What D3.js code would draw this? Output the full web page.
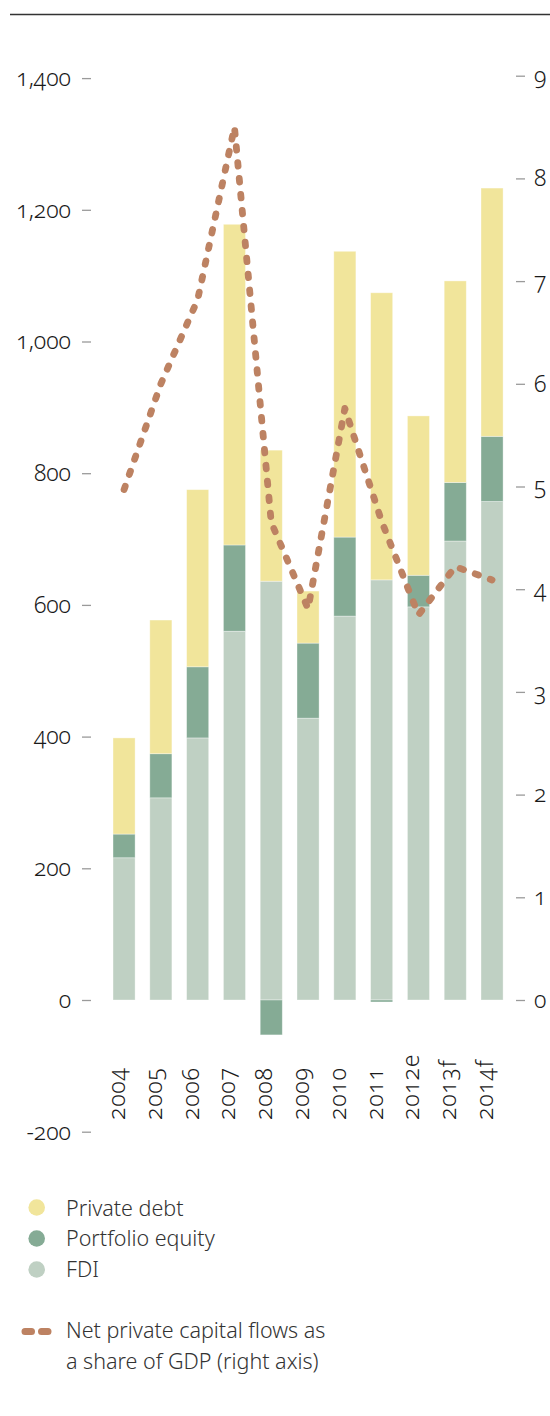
<!DOCTYPE html>
<html>
<head>
<meta charset="utf-8">
<script src="https://cdn.jsdelivr.net/npm/d3@7"></script>
<style>
  body { margin: 0; background: #fff; }
  .lbl { font-family: "Noto Sans", sans-serif; font-weight: 300; font-feature-settings: "onum" 1; }
</style>
</head>
<body>
<div id="chart"></div>
<script>
// data
const years = ['2004', '2005', '2006', '2007', '2008', '2009', '2010', '2011', '2012e', '2013f', '2014f']
const fdi = [216, 307, 398, 560, 636, 428, 583, 638, 597, 697, 757]
const portfolioEquity = [36, 67, 108, 131, -53, 114, 120, -3, 48, 89, 99]
const privateDebt = [146, 203, 269, 487, 199, 79, 434, 436, 242, 306, 377]
const flowsShareGdp = [4.97, 6.0, 6.82, 8.5, 4.65, 3.81, 5.76, 4.66, 3.75, 4.22, 4.09]

const leftTicks = [-200, 0, 200, 400, 600, 800, 1000, 1200, 1400]
const leftTickLabels = ['-200', '0', '200', '400', '600', '800', '1,000', '1,200', '1,400']
const rightTicks = [0, 1, 2, 3, 4, 5, 6, 7, 8, 9]
const seriesNames = ['Private debt', 'Portfolio equity', 'FDI']

const W = 550, H = 1416
const colors = { fdi: '#bfd0c3', pe: '#85ab95', debt: '#f1e59b', line: '#bd8262' }

let svg = d3.select('#chart').append('svg')
    .attr('width', W)
    .attr('height', H)

// top rule
svg.append('line')
    .attr('x1', 10).attr('x2', W)
    .attr('y1', 14.5).attr('y2', 14.5)
    .style('stroke', '#333').style('stroke-width', 1.5)

let x = d3.scaleBand()
    .domain(years)
    .range([98.3, 517.8])
    .paddingInner(0.4)
    .paddingOuter(0.4)

let y = d3.scaleLinear().domain([-200, 1400]).range([1131.7, 78.1])
let y2 = d3.scaleLinear().domain([0, 9]).range([1000, 75.7])

// left axis
let leftAxis = d3.axisLeft(y)
    .tickValues(leftTicks)
    .tickFormat((d, i) => leftTickLabels[i])
    .tickSize(9)
    .tickPadding(11)
let gl = svg.append('g').attr('transform', 'translate(91,0)').call(leftAxis)
gl.select('.domain').remove()
gl.selectAll('.tick line').style('stroke', '#9a9a9a').style('stroke-width', 1.3)
gl.selectAll('.tick text').attr('class', 'lbl')
    .style('font-size', '23px').style('fill', '#1a1a1a')

// right axis
let rightAxis = d3.axisRight(y2)
    .tickValues(rightTicks)
    .tickFormat(d3.format('d'))
    .tickSize(9)
    .tickPadding(9)
let gr = svg.append('g').attr('transform', 'translate(516,0)').call(rightAxis)
gr.select('.domain').remove()
gr.selectAll('.tick line').style('stroke', '#9a9a9a').style('stroke-width', 1.3)
gr.selectAll('.tick text').attr('class', 'lbl')
    .style('font-size', '23px').style('fill', '#1a1a1a')

// stacked bars
let rows = years.map((yr, i) => ({ year: yr, fdi: fdi[i], pe: portfolioEquity[i], debt: privateDebt[i] }))
let stack = d3.stack()
    .keys(['fdi', 'pe', 'debt'])
    .offset(d3.stackOffsetDiverging)
let layers = stack(rows)

svg.append('g').selectAll('g')
    .data(layers)
    .join('g')
    .style('fill', d => colors[d.key])
    .selectAll('rect')
    .data(d => d)
    .join('rect')
    .attr('x', d => x(d.data.year))
    .attr('width', x.bandwidth())
    .attr('y', d => y(Math.max(d[0], d[1])))
    .attr('height', d => Math.abs(y(d[0]) - y(d[1])))
    .style('stroke', 'rgba(255,255,255,0.45)')
    .style('stroke-width', 0.8)

// year labels
svg.append('g').selectAll('text')
    .data(years)
    .join('text')
    .attr('class', 'lbl')
    .attr('transform', d => 'translate(' + (x(d) + x.bandwidth() / 2 + 1) + ',1120) rotate(-90)')
    .style('font-size', '23px')
    .style('letter-spacing', '0.8px')
    .style('fill', '#1a1a1a')
    .text(d => d)

// net private capital flows line (right axis)
let line = d3.line()
    .x((d, i) => x(years[i]) + x.bandwidth() / 2)
    .y(d => y2(d))

svg.append('path')
    .datum(flowsShareGdp)
    .attr('d', line)
    .style('fill', 'none')
    .style('stroke', colors.line)
    .style('stroke-width', 6.8)
    .style('stroke-linecap', 'round')
    .style('stroke-linejoin', 'round')
    .style('stroke-dasharray', '3.5 12.5')

// legend
let legendColors = [colors.debt, colors.pe, colors.fdi]
let lg = svg.append('g')
seriesNames.forEach((name, i) => {
    lg.append('circle')
        .attr('cx', 36.7)
        .attr('cy', 1207.5 + i * 31)
        .attr('r', 8.3)
        .style('fill', legendColors[i])
    lg.append('text')
        .attr('class', 'lbl')
        .attr('x', 66)
        .attr('y', 1215.5 + i * 30.5)
        .style('font-size', '21.5px')
        .style('fill', '#333')
        .text(name)
})

lg.append('line')
    .attr('x1', 25).attr('x2', 48)
    .attr('y1', 1331.5).attr('y2', 1331.5)
    .style('stroke', colors.line)
    .style('stroke-width', 7)
    .style('stroke-linecap', 'round')
    .style('stroke-dasharray', '6.5 10')

lg.append('text')
    .attr('class', 'lbl')
    .attr('x', 66).attr('y', 1337.5)
    .style('font-size', '21.5px').style('fill', '#333')
    .text('Net private capital flows as')
lg.append('text')
    .attr('class', 'lbl')
    .attr('x', 66).attr('y', 1368.5)
    .style('font-size', '21.5px').style('fill', '#333')
    .text('a share of GDP (right axis)')
</script>
</body>
</html>
